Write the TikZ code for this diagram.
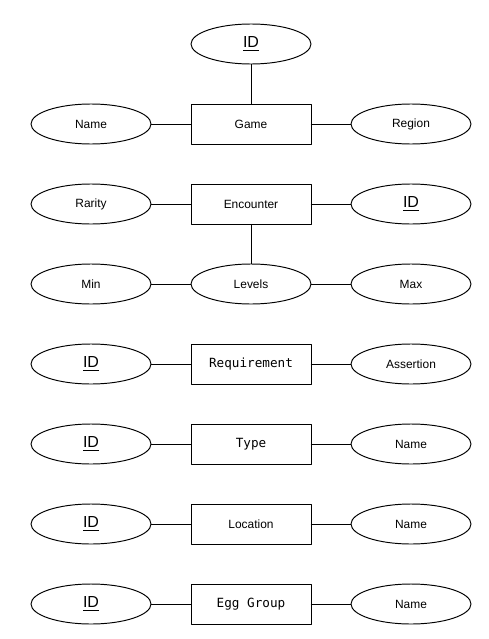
\documentclass[tikz,border=0pt]{standalone}
\usepackage{fontspec}
\setmainfont{Liberation Sans}
\setmonofont{DejaVu Sans Mono}
\usetikzlibrary{shapes.geometric}
\begin{document}
\begin{tikzpicture}[x=0.02cm, y=-0.02cm, font=\fontsize{6.8}{8}\selectfont, line join=round, line cap=round, line width=0.55pt,
		entity/.style={draw, rectangle, minimum width=2.4cm, minimum height=0.8cm, inner sep=0pt},
		attr/.style={draw, ellipse, minimum width=2.4cm, minimum height=0.8cm, inner sep=0pt},
		code/.style={font=\fontsize{7.2}{9}\ttfamily},
		key/.style={font=\fontsize{9.1}{11}\selectfont}]
	\useasboundingbox (0,0) rectangle (488,639);
	% Game
	\node[attr, key] (gid) at (251,44) {\underline{ID}};
	\node[entity] (game) at (251,124) {Game};
	\node[attr] (gname) at (91,124) {Name};
	\node[attr] (gregion) at (411,124) {Region};
	\draw (gid) -- (game) (gname) -- (game) -- (gregion);
	% Encounter
	\node[entity] (enc) at (251,204) {Encounter};
	\node[attr] (erarity) at (91,204) {Rarity};
	\node[attr, key] (eid) at (411,204) {\underline{ID}};
	\node[attr] (levels) at (251,284) {Levels};
	\node[attr] (lmin) at (91,284) {Min};
	\node[attr] (lmax) at (411,284) {Max};
	\draw (erarity) -- (enc) -- (eid) (enc) -- (levels) (lmin) -- (levels) -- (lmax);
	% Requirement
	\node[entity, code] (req) at (251,364) {Requirement};
	\node[attr, key] (rid) at (91,364) {\underline{ID}};
	\node[attr] (rassert) at (411,364) {Assertion};
	\draw (rid) -- (req) -- (rassert);
	% Type
	\node[entity, code] (type) at (251,444) {Type};
	\node[attr, key] (tid) at (91,444) {\underline{ID}};
	\node[attr] (tname) at (411,444) {Name};
	\draw (tid) -- (type) -- (tname);
	% Location
	\node[entity] (loc) at (251,524) {Location};
	\node[attr, key] (lid) at (91,524) {\underline{ID}};
	\node[attr] (lname) at (411,524) {Name};
	\draw (lid) -- (loc) -- (lname);
	% Egg Group
	\node[entity, code] (egg) at (251,604) {Egg Group};
	\node[attr, key] (egid) at (91,604) {\underline{ID}};
	\node[attr] (egname) at (411,604) {Name};
	\draw (egid) -- (egg) -- (egname);
\end{tikzpicture}
\end{document}
